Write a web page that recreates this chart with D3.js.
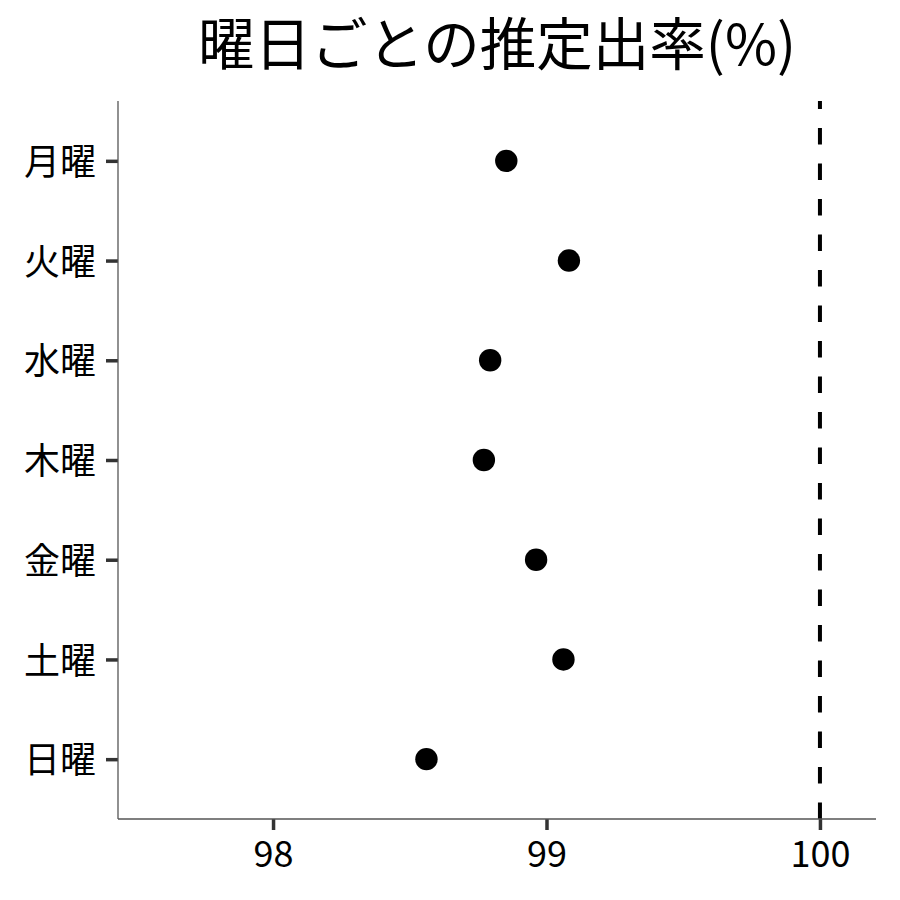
<!DOCTYPE html>
<html>
<head>
<meta charset="utf-8">
<script src="https://cdn.jsdelivr.net/npm/d3@7"></script>
<style>
  html, body { margin: 0; padding: 0; background: #fff; }
  svg { display: block; }
  text { font-family: "Noto Sans CJK JP", "Noto Sans", sans-serif; }
</style>
</head>
<body>
<svg id="chart" width="900" height="900"></svg>
<script>
// ---- data ----
const days = ["月曜", "火曜", "水曜", "木曜", "金曜", "土曜", "日曜"];
const rates = [98.853, 99.082, 98.794, 98.771, 98.962, 99.062, 98.561];
const xTicks = [98, 99, 100];
const refLine = 100;
const title = "曜日ごとの推定出率(%)";

// ---- layout ----
const panel = { left: 118, right: 876, top: 101, bottom: 819 };
const svg = d3.select("#chart");

const x = d3.scaleLinear()
  .domain([97.433, 100.205])
  .range([panel.left, panel.right]);

const y = d3.scalePoint()
  .domain(days)
  .range([panel.top, panel.bottom])
  .padding(0.6);

// title
svg.append("text")
  .attr("x", (panel.left + panel.right) / 2)
  .attr("y", 65)
  .attr("text-anchor", "middle")
  .attr("font-size", 56.5)
  .attr("fill", "#000")
  .text(title);

// reference line (dashed), drawn from bottom upward
svg.append("line")
  .attr("x1", x(refLine)).attr("x2", x(refLine))
  .attr("y1", panel.bottom).attr("y2", panel.top)
  .attr("stroke", "#000")
  .attr("stroke-width", 4)
  .attr("stroke-dasharray", "16.5,19");

// x axis
const xAxis = d3.axisBottom(x).tickValues(xTicks).tickSize(11).tickPadding(6).tickFormat(d3.format("d"));
const gx = svg.append("g")
  .attr("transform", `translate(0,${panel.bottom})`)
  .call(xAxis);
gx.select(".domain").remove();
gx.selectAll(".tick line").attr("stroke", "#333").attr("stroke-width", 3.5);
gx.selectAll(".tick text")
  .attr("font-size", 36)
  .attr("fill", "#000")
  .attr("dy", null)
  .attr("y", 48);

// y axis
const yAxis = d3.axisLeft(y).tickSize(12).tickPadding(10);
const gy = svg.append("g")
  .attr("transform", `translate(${panel.left},0)`)
  .call(yAxis);
gy.select(".domain").remove();
gy.selectAll(".tick line").attr("stroke", "#333").attr("stroke-width", 3.5);
gy.selectAll(".tick text")
  .attr("font-size", 36)
  .attr("fill", "#000")
  .attr("dy", "0.38em");

// axis lines
svg.append("line")
  .attr("x1", panel.left).attr("x2", panel.right)
  .attr("y1", panel.bottom).attr("y2", panel.bottom)
  .attr("stroke", "#555").attr("stroke-width", 1.3);
svg.append("line")
  .attr("x1", panel.left).attr("x2", panel.left)
  .attr("y1", panel.top).attr("y2", panel.bottom)
  .attr("stroke", "#555").attr("stroke-width", 1.3);

// points
svg.append("g")
  .selectAll("circle")
  .data(days.map((d, i) => ({ day: d, rate: rates[i] })))
  .join("circle")
  .attr("cx", d => x(d.rate))
  .attr("cy", d => y(d.day))
  .attr("r", 11.2)
  .attr("fill", "#000");
</script>
</body>
</html>
